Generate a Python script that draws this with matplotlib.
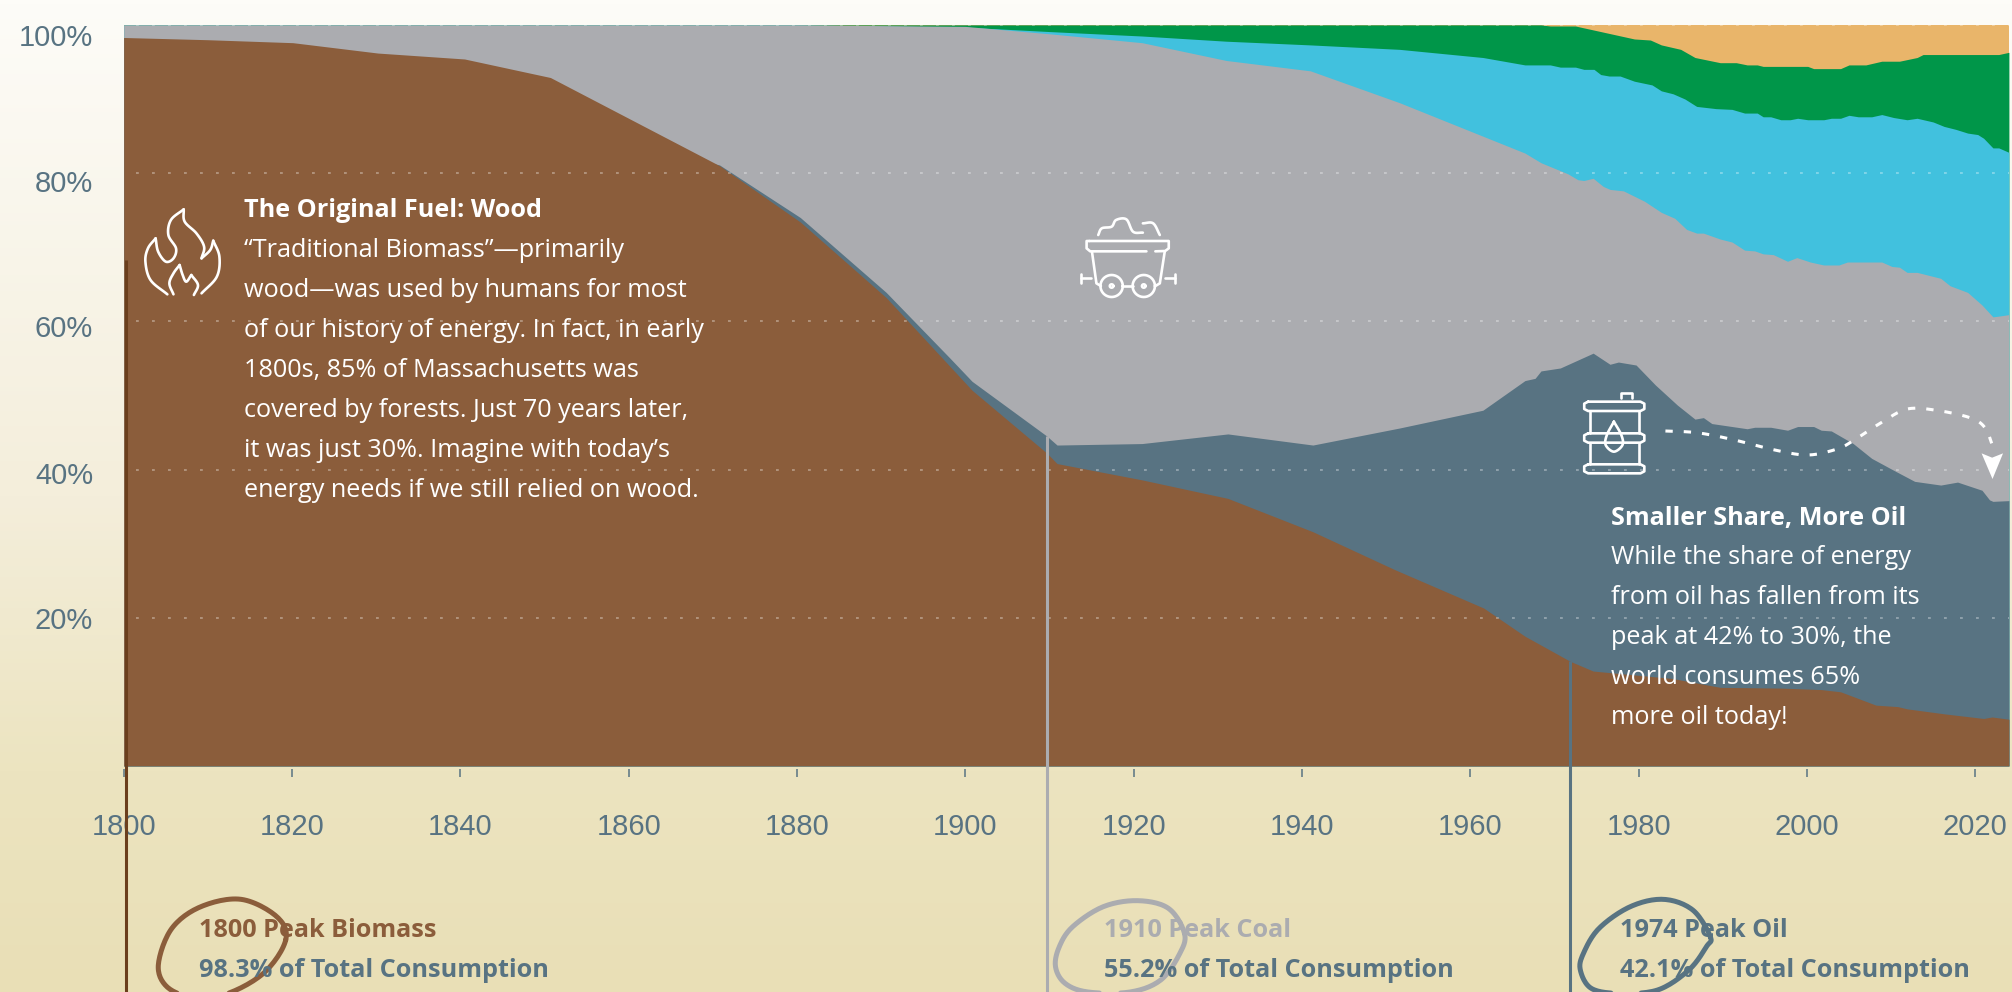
import numpy as np
import matplotlib
matplotlib.use("Agg")
import matplotlib.pyplot as plt
from matplotlib.colors import LinearSegmentedColormap
from matplotlib.lines import Line2D
from matplotlib.patches import Polygon
from matplotlib.transforms import Affine2D

# ---------- data: cumulative top edge of each stacked band (% of consumption) ----------
biomass_years = [1800,1810,1820.1,1830.2,1840.5,1850.7,1870.8,1880.4,1890.6,1900.8,1909.7,1910.9,1921,1931.2,1941.3,1951,1961.6,1966.5,1971.9,1974.6,1984,1989.7,1996.9,2001.7,2004,2008.2,2010.8,2011.9,2016.5,2021,2022,2024]
biomass_top   = [98.3,98.0,97.6,96.2,95.4,92.9,81.0,73.4,63.2,50.7,42.2,40.8,38.6,36.1,31.6,26.5,21.3,17.5,14.1,12.8,11.8,10.6,10.5,10.3,10.0,8.2,8.0,7.7,7.0,6.4,6.6,6.3]

oil_years = [1800,1870.8,1880.4,1890.6,1898.2,1900.8,1909.7,1910.9,1921,1931.2,1941.3,1951.6,1961.5,1966.5,1967.7,1968.4,1970.7,1974.6,1976.6,1977.6,1979.7,1982,1984.6,1986.7,1987.7,1988.7,1991.1,1992.9,1993.8,1995.7,1997.7,1998.9,2000.8,2001.7,2002.9,2005.5,2007.7,2010.3,2012.8,2015.9,2017.9,2020.8,2021.7,2022.1,2024]
oil_top   = [98.3,81.1,74.0,63.9,55.0,51.9,44.5,43.3,43.5,44.8,43.3,45.6,48.0,52.0,52.3,53.3,53.7,55.7,54.2,54.5,54.1,51.4,48.7,46.8,47.0,46.2,45.8,45.5,45.7,45.7,45.3,45.8,45.8,45.3,45.2,43.5,41.5,39.9,38.4,37.9,38.3,37.2,35.9,35.7,35.8]

coal_years = [1800,1880,1900,1910,1921,1931,1941,1951.6,1966.5,1968.4,1971.6,1972.8,1973.5,1974.6,1975.8,1976.6,1978.2,1980.7,1982.7,1984.3,1985.7,1986.9,1987.7,1989.7,1991.1,1992.6,1993.8,1994.8,1996,1997.7,1998.8,2000.4,2002,2003.8,2004.8,2008.9,2010.1,2011,2011.9,2013.1,2015.9,2017,2019.1,2020.8,2022.1,2022.8,2024]
coal_top   = [100,100,99.8,98.8,97.6,95.2,93.8,89.5,82.7,81.4,79.9,79.1,79.0,79.3,78.2,77.8,77.6,76.2,74.7,73.9,72.4,71.9,71.9,71.1,70.7,69.6,69.5,69.1,69.0,68.1,68.6,68.0,67.6,67.6,68.0,68.0,67.4,67.3,66.6,66.6,65.8,64.8,63.9,62.2,60.6,60.7,60.9]

hydro_years = [1800,1880,1900,1910,1921,1931,1941,1951.6,1961.5,1966.5,1969.5,1970.7,1972.5,1973.5,1974.7,1975.5,1976.5,1977.8,1979.5,1981.6,1982.7,1984.1,1985.5,1986.9,1989.2,1991.1,1992.6,1994.1,1994.8,1995.7,1996.9,1998,1998.9,2000.1,2002,2002.9,2004,2005,2006.1,2007.7,2008.9,2010.3,2011.9,2013.1,2015,2016.3,2017.7,2019.1,2020.3,2021,2022.1,2022.8,2024]
hydro_top   = [100,100,99.7,99.1,98.5,97.8,97.3,96.7,95.6,94.6,94.6,94.3,94.3,94.0,94.0,93.3,93.1,93.1,92.4,91.9,91.1,90.7,90.0,89.0,88.7,88.6,88.1,88.1,87.6,87.6,87.2,87.2,87.4,87.2,87.2,87.4,87.4,87.8,87.6,87.6,87.9,87.5,87.2,87.4,86.9,86.3,85.9,85.4,85.2,84.7,83.4,83.4,82.8]

gas_years = [1800,1968.4,1969.5,1972.5,1973.5,1976.3,1979.5,1981.4,1982.7,1985,1986.7,1989.7,1991.6,1992.9,1994.1,1994.8,2000.1,2000.8,2004,2005,2007,2008.9,2011,2013.1,2013.8,2022.8,2024]
gas_top   = [100,100,99.85,99.85,99.6,98.9,98.1,97.96,97.3,96.7,95.6,94.9,94.9,94.6,94.6,94.4,94.4,94.1,94.1,94.6,94.6,95.1,95.1,95.6,96.0,96.0,96.3]

renew_years = [1800, 2024]
renew_top   = [100, 100]

x_ticks = [1800,1820,1840,1860,1880,1900,1920,1940,1960,1980,2000,2020]
y_ticks = [20,40,60,80,100]
y_tick_labels = ["20%","40%","60%","80%","100%"]

BROWN, SLATE, GRAY, CYAN, GREEN, TAN = "#8B5D3B", "#587382", "#ABACB0", "#41C1DE", "#009649", "#E9B56A"
DARK_BROWN = "#6B3F1D"
BODY = "Open Sans"

W, H = 2012, 992
plt.rcParams["font.family"] = [BODY, "DejaVu Sans"]
fig = plt.figure(figsize=(W/100, H/100), dpi=100)
PX = Affine2D().scale(1/W, -1/H).translate(0, 1) + fig.transFigure

# ---------- gradient background ----------
bg = fig.add_axes([0, 0, 1, 1], zorder=-5)
bg.axis("off")
cmap = LinearSegmentedColormap.from_list("bg", [(0, "#FDFCF8"), (0.5, "#F4EEDB"), (0.78, "#ECE4C0"), (1, "#E9DFB6")])
bg.imshow(np.linspace(0, 1, 256)[:, None], cmap=cmap, aspect="auto", extent=[0, 1, 0, 1], origin="upper")

# ---------- chart ----------
L, R, T, B = 123.7, 2008.9, 24.9, 765.9
ax = fig.add_axes([L/W, 1-B/H, (R-L)/W, (B-T)/H])
ax.patch.set_alpha(0)
ax.set_xlim(1800, 2024)
ax.set_ylim(0, 100)
ax.fill_between(renew_years, 0, renew_top, color=TAN, lw=0, zorder=1)
ax.fill_between(gas_years, 0, gas_top, color=GREEN, lw=0, zorder=1.1)
ax.fill_between(hydro_years, 0, hydro_top, color=CYAN, lw=0, zorder=1.2)
ax.fill_between(coal_years, 0, coal_top, color=GRAY, lw=0, zorder=1.3)
ax.fill_between(oil_years, 0, oil_top, color=SLATE, lw=0, zorder=1.4)
ax.fill_between(biomass_years, 0, biomass_top, color=BROWN, lw=0, zorder=1.5)

for s in ax.spines.values():
    s.set_visible(False)
ax.spines["bottom"].set_position(("outward", 2.5))
ax.set_xticks(x_ticks)
ax.set_xticklabels([str(v) for v in x_ticks], family="Liberation Sans", fontsize=21, color=SLATE)
ax.tick_params(axis="x", length=5.6, width=1.1, color=SLATE, pad=25.5)
ax.set_yticks(y_ticks)
ax.set_yticklabels(y_tick_labels, family="Liberation Sans", fontsize=21, color=SLATE)
ax.tick_params(axis="y", length=0, pad=22)
for lab, dy in zip(ax.get_yticklabels(), [0, 3, 5, 8, 10]):
    lab.set_transform(lab.get_transform() + Affine2D().translate(0, -dy))
ax.set_axisbelow(False)
ax.grid(axis="y", color="white", alpha=0.32, lw=1.44, linestyle=(2, (1.4, 6.6)), zorder=2)
ax.grid(axis="x", visible=False)

# peak marker lines running below the axis
peak_years = [1800.3, 1909.7, 1971.9]
peak_tops = [68.3, 44.5, 14.1]
peak_cols = [DARK_BROWN, GRAY, SLATE]
for yr, top, c in zip(peak_years, peak_tops, peak_cols):
    ax.plot([yr, yr], [top, -31], color=c, lw=2.2, clip_on=False, zorder=3, solid_capstyle="butt")

# ---------- text ----------
REG, BLD = 18.2, 18.2
def txt(x, y, s, size=REG, weight="normal", color="white"):
    fig.text(x, y, s, transform=PX, fontsize=size, fontweight=weight, color=color, va="baseline", ha="left", zorder=10, family=BODY)

wood = ["\u201cTraditional Biomass\u201d\u2014primarily", "wood\u2014was used by humans for most",
        "of our history of energy. In fact, in early", "1800s, 85% of Massachusetts was",
        "covered by forests. Just 70 years later,", "it was just 30%. Imagine with today\u2019s",
        "energy needs if we still relied on wood."]
txt(244.4, 217, "The Original Fuel: Wood", size=BLD, weight="bold")
for i, s in enumerate(wood):
    txt(244.4, 257 + 40*i, s)

oil = ["While the share of energy", "from oil has fallen from its", "peak at 42% to 30%, the", "world consumes 65%", "more oil today!"]
txt(1610.8, 524.5, "Smaller Share, More Oil", size=BLD, weight="bold")
for i, s in enumerate(oil):
    txt(1610.8, 564.5 + 40*i, s)

txt(198.7, 937, "1800 Peak Biomass", size=BLD, weight="bold", color=BROWN)
txt(198.7, 976.7, "98.3% of Total Consumption", size=BLD, weight="bold", color=SLATE)
txt(1104, 937, "1910 Peak Coal", size=BLD, weight="bold", color=GRAY)
txt(1104, 976.7, "55.2% of Total Consumption", size=BLD, weight="bold", color=SLATE)
txt(1620.5, 937, "1974 Peak Oil", size=BLD, weight="bold", color=SLATE)
txt(1620.5, 976.7, "42.1% of Total Consumption", size=BLD, weight="bold", color=SLATE)

# ---------- decoration helpers ----------
def smooth(pts, closed=False, n=14):
    p = np.asarray(pts, float)
    if closed:
        p = np.vstack([p[-1], p, p[0], p[1]])
    else:
        p = np.vstack([2*p[0]-p[1], p, 2*p[-1]-p[-2]])
    out = []
    for i in range(1, len(p)-2):
        p0, p1, p2, p3 = p[i-1], p[i], p[i+1], p[i+2]
        for t in np.linspace(0, 1, n, endpoint=False):
            out.append(0.5*((2*p1) + (-p0+p2)*t + (2*p0-5*p1+4*p2-p3)*t**2 + (-p0+3*p1-3*p2+p3)*t**3))
    out.append(p[-2])
    return np.array(out)

def draw(pts, ox, sx, oy, lw=1.9, color="white", curve=True, closed=False, **kw):
    q = smooth(pts, closed) if curve else np.asarray(pts, float)
    fig.add_artist(Line2D(ox + q[:, 0]/sx, oy + q[:, 1]/3, transform=PX, color=color, lw=lw, zorder=9,
                          solid_capstyle="round", **kw))

# flame (zoom coordinates: x/1.96, y/3)
f = (0, 1.96, 0)
draw([(328,883),(295,840),(285,785),(290,745),(305,715)], *f)
draw([(305,715),(310,755),(325,785),(340,775),(345,745),(330,705),(335,660),(360,628)], *f)
draw([(360,628),(362,665),(385,700),(400,740),(395,775)], *f)
draw([(395,775),(412,750),(418,722)], *f)
draw([(418,722),(430,770),(425,830),(395,880)], *f)
draw([(340,883),(332,850),(340,820),(352,795)], *f)
draw([(352,795),(358,825),(365,845),(375,825)], *f)
draw([(375,825),(388,855),(380,885)], *f)

# mine cart (x/2.24, y/3)
c = (950, 2.24, 180)
draw([(312,183),(490,183),(490,205),(482,213),(460,214)], *c, curve=False)
draw([(312,183),(306,183),(306,205),(314,214),(440,214)], *c, curve=False)
draw([(318,215),(328,310),(338,318)], *c, curve=False)
draw([(481,215),(470,310),(460,318)], *c, curve=False)
draw([(386,318),(410,318)], *c, curve=False)
draw([(293,282),(293,308)], *c, curve=False)
draw([(293,295),(315,295)], *c, curve=False)
draw([(503,282),(503,308)], *c, curve=False)
draw([(482,295),(503,295)], *c, curve=False)
draw([(332,165),(340,145),(362,140),(372,120),(395,118),(410,155),(432,158)], *c)
draw([(432,130),(455,130),(470,165)], *c)
for cx in (362, 434):
    th = np.linspace(0, 2*np.pi, 40)
    draw(np.c_[cx+25*np.cos(th), 318+33*np.sin(th)], *c, curve=False)
    draw(np.c_[cx+4*np.cos(th), 318+5*np.sin(th)], *c, curve=False)

# oil barrel (x/2.562, y/3)
b = (1400, 2.562, 0)
for y0, y1 in ((1205,1233),(1300,1328),(1393,1420)):
    draw([(482,y0),(616,y0),(626,y0+6),(626,y1-6),(616,y1),(482,y1),(472,y1-6),(472,y0+6),(482,y0)], *b, curve=False)
for xs in (487, 612):
    draw([(xs,1233),(xs,1300)], *b, curve=False)
    draw([(xs,1328),(xs,1393)], *b, curve=False)
draw([(567,1193),(567,1180),(595,1180),(595,1193)], *b, curve=False)
draw([(548,1265),(530,1305),(527,1335),(548,1355),(570,1335),(567,1305),(548,1265)], *b)

# dashed arrow
arrow = smooth([(680,1293),(760,1298),(850,1318),(960,1350),(1045,1365),(1120,1347),(1160,1323),(1230,1270),(1300,1227),(1380,1232),(1465,1255),(1500,1285),(1516,1330)])
fig.add_artist(Line2D(1400+arrow[:,0]/2.562, arrow[:,1]/3, transform=PX, color="white", lw=2.2, linestyle=(0,(2.4,3.6)), zorder=9))
head = np.array([(1490,1360),(1517,1373),(1545,1360),(1518,1437)], float)
fig.add_artist(Polygon(np.c_[1400+head[:,0]/2.562, head[:,1]/3], closed=True, transform=PX, fc="white", ec="none", zorder=9))

# hand-drawn circles
draw([(640,600),(620,530),(540,478),(450,500),(385,565),(355,670),(370,735),(420,768),(500,765),(590,700)], 0, 2.24, 740, lw=3.6, color=BROWN, closed=True)
draw([(482,280),(440,205),(360,182),(270,200),(190,260),(155,320),(145,380),(170,430),(230,456),(340,456),(420,420),(470,340)], 1000, 2.613, 840, lw=3.6, color=GRAY, closed=True)
draw([(795,1370),(750,1290),(675,1258),(590,1280),(510,1345),(470,1420),(462,1470),(490,1525),(560,1540),(660,1530),(740,1470),(785,1400)], 1400, 2.562, 480, lw=3.6, color=SLATE, closed=True)

fig.savefig("out.png", dpi=100)
